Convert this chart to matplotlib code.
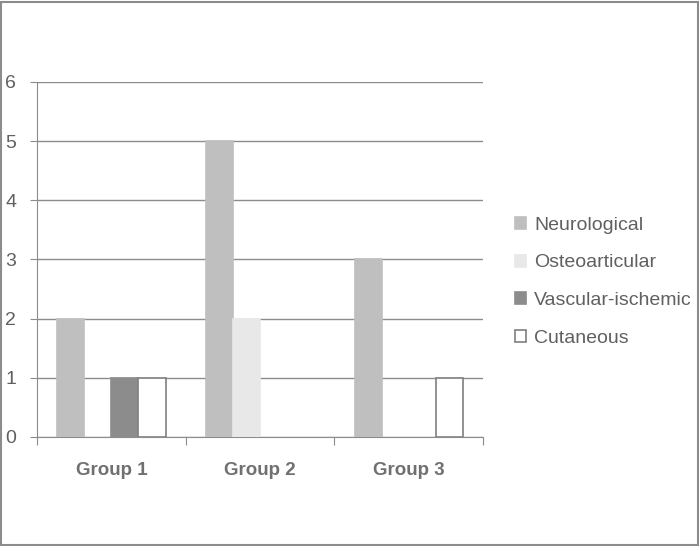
import numpy as np
import matplotlib.pyplot as plt
from matplotlib.patches import Rectangle

groups = ["Group 1", "Group 2", "Group 3"]
series = ["Neurological", "Osteoarticular", "Vascular-ischemic", "Cutaneous"]
neuro = [2, 5, 3]
osteo = [0, 2, 0]
vascular = [1, 0, 0]
cutaneous = [1, 0, 1]

values = [neuro, osteo, vascular, cutaneous]
faces = ["#bfbfbf", "#e8e8e8", "#8c8c8c", "white"]
edges = ["#bfbfbf", "#e8e8e8", "#8c8c8c", "#7f7f7f"]

plt.rcParams['font.family'] = ['Liberation Sans', 'DejaVu Sans']
fig = plt.figure(figsize=(7, 5.46), dpi=100)
ax = fig.add_axes([0.053, 0.2, 0.637, 0.65])

x = np.arange(len(groups))
w = 0.182
for i, (vals, fc, ec) in enumerate(zip(values, faces, edges)):
    vals = np.array(vals, dtype=float)
    # zero bars get no outline, so they vanish like in the original
    lw = [1.2 if v > 0 else 0 for v in vals]
    ax.bar(x + (i - 1.5) * w, vals, w, color=fc, edgecolor=ec, linewidth=lw,
           label=series[i], zorder=3)

ax.set_xlim(-0.5, 2.5)
ax.set_ylim(0, 6)
ax.set_yticks(range(0, 7))
ax.yaxis.grid(True, color="#8c8c8c", linewidth=1)
ax.set_axisbelow(True)
ax.set_xticks([-0.5, 0.5, 1.5, 2.5], minor=False)
ax.set_xticklabels([])
ax.set_xticks(x, minor=True)
ax.set_xticklabels(groups, minor=True, fontsize=13.5, fontweight="bold", color="#707070")
ax.tick_params(axis="x", which="minor", length=0, pad=18)
ax.tick_params(axis="x", which="major", length=6, color="#8c8c8c", direction="out")
ax.tick_params(axis="y", length=5, color="#8c8c8c", labelsize=14, labelcolor="#606060", pad=10)
for s in ["top", "right"]:
    ax.spines[s].set_visible(False)
for s in ["left", "bottom"]:
    ax.spines[s].set_color("#8c8c8c")

leg = ax.legend(loc="center left", bbox_to_anchor=(0.71, 0.484), bbox_transform=fig.transFigure,
                frameon=False, fontsize=14, labelcolor="#606060", handlelength=0.57,
                handleheight=0.57, labelspacing=1.06, handletextpad=0.45)
for h in leg.legend_handles:
    h.set_linewidth(1.2)

fig.patches.append(Rectangle((0.001, 0.002), 0.996, 0.995, transform=fig.transFigure,
                             fill=False, edgecolor="#8c8c8c", linewidth=1.5))

fig.savefig("out.png", dpi=100)
